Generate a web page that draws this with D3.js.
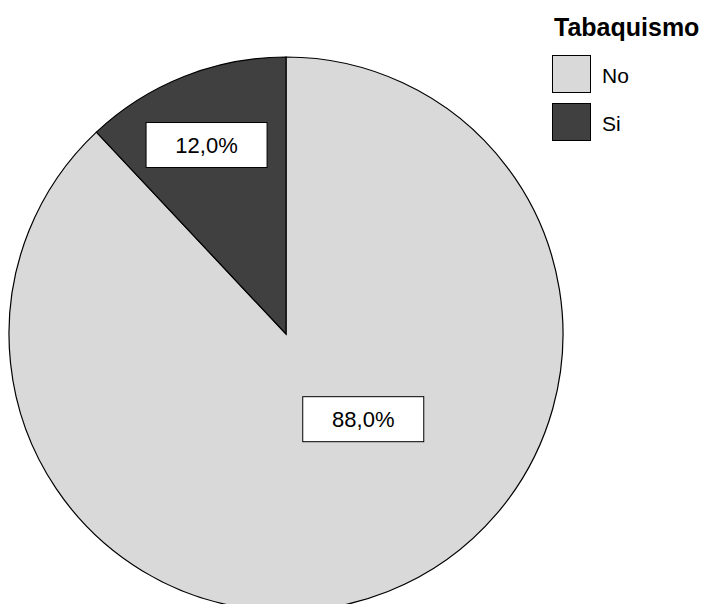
<!DOCTYPE html>
<html>
<head>
<meta charset="utf-8">
<script src="https://cdn.jsdelivr.net/npm/d3@7"></script>
<style>
  body { margin: 0; background: #fff; }
  text { font-family: "Liberation Sans", Arial, sans-serif; }
</style>
</head>
<body>
<div id="chart"></div>
<script>
var categories = ["No", "Si"];
var values = [88.0, 12.0];
var labels = ["88,0%", "12,0%"];
var legendTitle = "Tabaquismo";

var width = 707, height = 604,
    cx = 286, cy = 334, radius = 277,
    colors = ["#d9d9d9", "#404040"];

// label placement (angle in degrees clockwise from top, distance from center)
var labelPos = [{a: 137.8, r: 115}, {a: -22.8, r: 205}];

var data = categories.map((c, i) => ({cat: c, value: values[i], label: labels[i]}));

var svg = d3.select("#chart")
  .append("svg")
  .attr("width", width)
  .attr("height", height);

var pie = d3.pie().sort(null).value(d => d.value);
var arc = d3.arc().innerRadius(0).outerRadius(radius);

var g = svg.append("g")
  .attr("transform", `translate(${cx},${cy})`);

g.selectAll("path.slice")
  .data(pie(data))
  .enter().append("path")
  .attr("class", "slice")
  .attr("d", arc)
  .style("fill", (d, i) => colors[i])
  .style("stroke", "#000")
  .style("stroke-width", 1.2);

/* value labels */
var lab = g.selectAll("g.lab")
  .data(data)
  .enter().append("g")
  .attr("class", "lab")
  .attr("transform", (d, i) => {
    var p = d3.pointRadial(labelPos[i].a * Math.PI / 180, labelPos[i].r);
    return `translate(${p[0]},${p[1]})`;
  });

lab.append("rect")
  .attr("x", -60.5).attr("y", -22.5)
  .attr("width", 121).attr("height", 45)
  .style("fill", "#fff")
  .style("stroke", "#000")
  .style("stroke-width", 1);

lab.append("text")
  .attr("text-anchor", "middle")
  .attr("dy", "0.36em")
  .style("font-size", "22px")
  .style("fill", "#000")
  .text(d => d.label);

// legend
var legend = svg.append("g").attr("transform", "translate(552,0)");

legend.append("text")
  .attr("x", 2).attr("y", 36)
  .style("font-size", "25px")
  .style("font-weight", "bold")
  .text(legendTitle);

var item = legend.selectAll("g.item")
  .data(data)
  .enter().append("g")
  .attr("class", "item")
  .attr("transform", (d, i) => `translate(0,${55 + i * 48})`);

item.append("rect")
  .attr("x", 0.5).attr("y", 0.5)
  .attr("width", 38).attr("height", 37)
  .style("fill", (d, i) => colors[i])
  .style("stroke", "#000")
  .style("stroke-width", 1);

item.append("text")
  .attr("x", 50).attr("y", 28)
  .style("font-size", "21px")
  .text(d => d.cat);
</script>
</body>
</html>
